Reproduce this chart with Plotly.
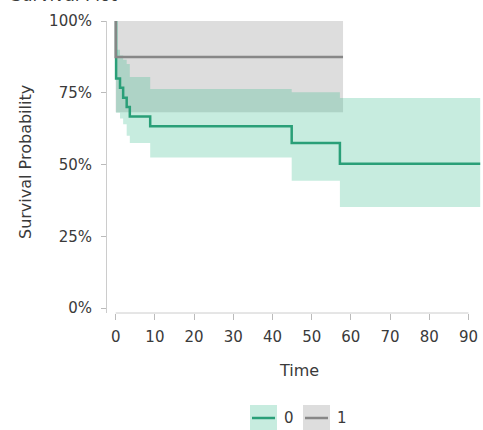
import plotly.graph_objects as go

# Group 0 (Kaplan-Meier estimate with confidence band)
t0 = [0, 0.1, 1.1, 1.9, 2.8, 3.6, 8.8, 44.9, 57.2, 93]
s0 = [1.0, 0.80, 0.767, 0.733, 0.70, 0.667, 0.633, 0.575, 0.503, 0.503]
up0 = [1.0, 0.90, 0.88, 0.865, 0.85, 0.805, 0.763, 0.752, 0.732, 0.732]
lo0 = [1.0, 0.68, 0.66, 0.64, 0.60, 0.575, 0.524, 0.443, 0.352, 0.352]

# Group 1
t1 = [0, 0, 58]
s1 = [1.0, 0.875, 0.875]
t1b = [0, 58]
up1 = [1.0, 1.0]
lo1 = [0.682, 0.682]

x_ticks = [0, 10, 20, 30, 40, 50, 60, 70, 80, 90]
y_ticks = [0, 0.25, 0.5, 0.75, 1.0]
y_labels = ["0%", "25%", "50%", "75%", "100%"]
groups = ["0", "1"]

GREEN = "#2a9f78"
GREEN_FILL = "rgba(38,180,130,0.26)"
GRAY = "#878787"
GRAY_FILL = "rgba(128,128,128,0.27)"
FONT = "DejaVu Sans"
TXT = "#3a3a3a"

W, H = 483, 430
ML, MR, MT, MB = 107, 2, 21, 117
PW, PH = W - ML - MR, H - MT - MB


def px(x):
    return (x - ML) / PW


def py(y):
    return (H - MB - y) / PH


fig = go.Figure()

# bands
fig.add_trace(go.Scatter(x=t1b, y=lo1, mode="lines", line=dict(width=0, shape="hv"),
                         showlegend=False, hoverinfo="skip"))
fig.add_trace(go.Scatter(x=t1b, y=up1, mode="lines", line=dict(width=0, shape="hv"),
                         fill="tonexty", fillcolor=GRAY_FILL, showlegend=False, hoverinfo="skip"))
fig.add_trace(go.Scatter(x=t0, y=lo0, mode="lines", line=dict(width=0, shape="hv"),
                         showlegend=False, hoverinfo="skip"))
fig.add_trace(go.Scatter(x=t0, y=up0, mode="lines", line=dict(width=0, shape="hv"),
                         fill="tonexty", fillcolor=GREEN_FILL, showlegend=False, hoverinfo="skip"))
# curves
fig.add_trace(go.Scatter(x=t0, y=s0, mode="lines", name=groups[0],
                         line=dict(color=GREEN, width=2.5, shape="hv"), showlegend=False))
fig.add_trace(go.Scatter(x=t1, y=s1, mode="lines", name=groups[1],
                         line=dict(color=GRAY, width=2.5, shape="hv"), showlegend=False))

# x axis line spanning the tick extent
fig.add_shape(type="line", xref="x", yref="paper", x0=x_ticks[0], x1=x_ticks[-1], y0=0, y1=0,
              line=dict(color="#cccccc", width=1))

# custom legend
legend_items = [(groups[0], GREEN, GREEN_FILL), (groups[1], GRAY, GRAY_FILL)]
lx = [250, 303]
for (name, lc, fc), x in zip(legend_items, lx):
    fig.add_shape(type="rect", xref="paper", yref="paper",
                  x0=px(x), x1=px(x + 27), y0=py(430), y1=py(405),
                  line=dict(width=0), fillcolor=fc)
    fig.add_shape(type="line", xref="paper", yref="paper",
                  x0=px(x + 2), x1=px(x + 25), y0=py(418), y1=py(418),
                  line=dict(color=lc, width=2.5))
    fig.add_annotation(text=name, xref="paper", yref="paper",
                       x=px(x + 32), y=py(418),
                       xanchor="left", yanchor="middle", showarrow=False,
                       font=dict(family=FONT, size=15, color=TXT))

# y axis title
fig.add_annotation(text="Survival Probability", xref="paper", yref="paper",
                   x=px(25), y=py(162), textangle=-90,
                   xanchor="center", yanchor="middle", showarrow=False,
                   font=dict(family=FONT, size=16, color=TXT))

# x axis title
fig.add_annotation(text="Time", xref="paper", yref="paper",
                   x=px(299), y=py(370),
                   xanchor="center", yanchor="middle", showarrow=False,
                   font=dict(family=FONT, size=16, color=TXT))

# chart title (partly cut off at the top, as in the reference)
fig.add_annotation(text="Survival Plot", xref="paper", yref="paper",
                   x=px(9), y=py(7.5),
                   xanchor="left", yanchor="bottom", showarrow=False,
                   font=dict(family=FONT, size=17, color=TXT))

fig.update_layout(
    width=W, height=H,
    margin=dict(l=ML, r=MR, t=MT, b=MB),
    plot_bgcolor="white", paper_bgcolor="white",
    font=dict(family=FONT, size=15, color=TXT),
    xaxis=dict(range=[-2.22, 93.2], tickvals=x_ticks, ticks="outside", ticklen=6,
               tickcolor="#bbbbbb", showgrid=False, zeroline=False, showline=False,
               ticklabelstandoff=4,
               tickfont=dict(family=FONT, size=15, color=TXT)),
    yaxis=dict(range=[-0.0174, 1.0], tickvals=y_ticks, ticktext=y_labels, ticks="outside",
               ticklen=5, tickcolor="#bbbbbb", showgrid=False, zeroline=False,
               showline=True, linecolor="#cccccc", linewidth=1,
               ticklabelstandoff=6,
               tickfont=dict(family=FONT, size=15, color=TXT)),
    showlegend=False,
)

fig.write_html("out.html", config={"displayModeBar": False},
               post_script="document.body.style.margin='0px';document.body.style.overflow='hidden';")
